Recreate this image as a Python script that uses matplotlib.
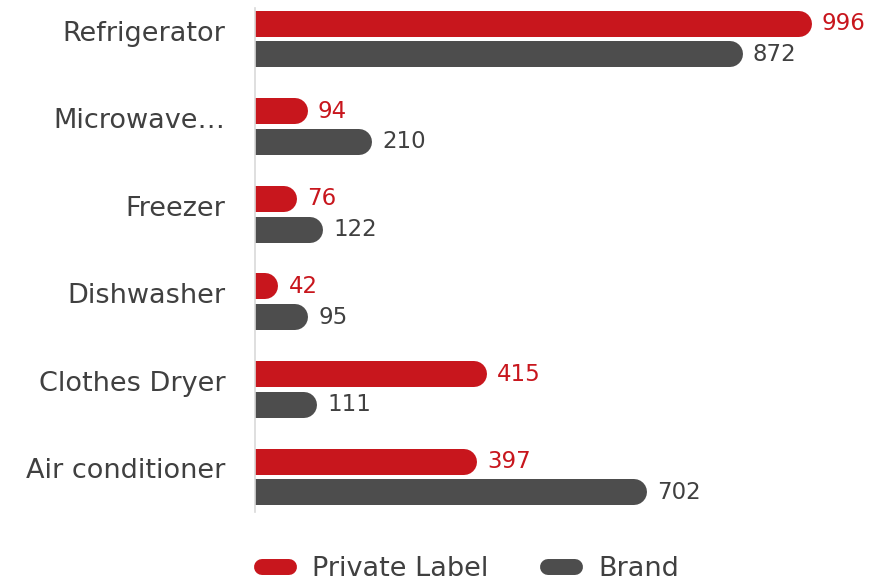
import matplotlib
matplotlib.use("Agg")
import matplotlib.pyplot as plt
from matplotlib.lines import Line2D
import matplotlib.transforms as mtransforms

categories = ["Refrigerator", "Microwave…", "Freezer", "Dishwasher", "Clothes Dryer", "Air conditioner"]
private_label = [996, 94, 76, 42, 415, 397]
brand = [872, 210, 122, 95, 111, 702]
series_names = ["Private Label", "Brand"]

RED = "#C8161D"
GRAY = "#4D4D4D"
TXT = "#404040"
FONT = ["DejaVu Sans"]
plt.rcParams["font.family"] = FONT

W, H = 870, 582
fig = plt.figure(figsize=(W / 100, H / 100), dpi=100)
ax = fig.add_axes([255 / W, 1 - 512 / H, 1 - 255 / W, (512 - 8) / H])
ax.set_xlim(0, 1100)
ax.set_ylim(5.4, -0.354)

for s in ["top", "right", "bottom"]:
    ax.spines[s].set_visible(False)
ax.spines["left"].set_color("#D9D9D9")
ax.spines["left"].set_linewidth(1.2)
ax.spines["left"].set_zorder(5)
ax.set_xticks([])
ax.set_yticks(range(len(categories)))
ax.set_yticklabels(categories, fontsize=19.5, color=TXT)
ax.tick_params(axis="y", length=0, pad=21.5)
offset = mtransforms.ScaledTranslation(0, 8.5 / 100, fig.dpi_scale_trans)
for lbl in ax.get_yticklabels():
    lbl.set_transform(lbl.get_transform() + offset)

bar_px = 26
lw_pt = bar_px * 72 / 100
px_per_unit = (W - 255) / 1100
r_units = (bar_px / 2) / px_per_unit
off = 0.175

for vals, color, dy in [(private_label, RED, -off), (brand, GRAY, off)]:
    for i, v in enumerate(vals):
        y = i + dy
        end = max(v - r_units, 0)
        ax.plot([0, end], [y, y], color=color, lw=lw_pt, solid_capstyle="round", zorder=3)
        ax.text(v + 10 / px_per_unit, y, f"{v}", color=color if color == RED else TXT,
                fontsize=16.5, va="center", ha="left", clip_on=False)

handles = [Line2D([0], [0], color=RED, lw=11.5, solid_capstyle="round"),
           Line2D([0], [0], color=GRAY, lw=11.5, solid_capstyle="round")]
fig.legend(handles, series_names, loc="center left", bbox_to_anchor=(262 / W, 1 - 569 / H),
           ncol=2, frameon=False, fontsize=19.5, handlelength=1.0, handletextpad=0.85,
           columnspacing=2.2, labelcolor=TXT, borderpad=0, borderaxespad=0)

fig.savefig("out.png", dpi=100)
